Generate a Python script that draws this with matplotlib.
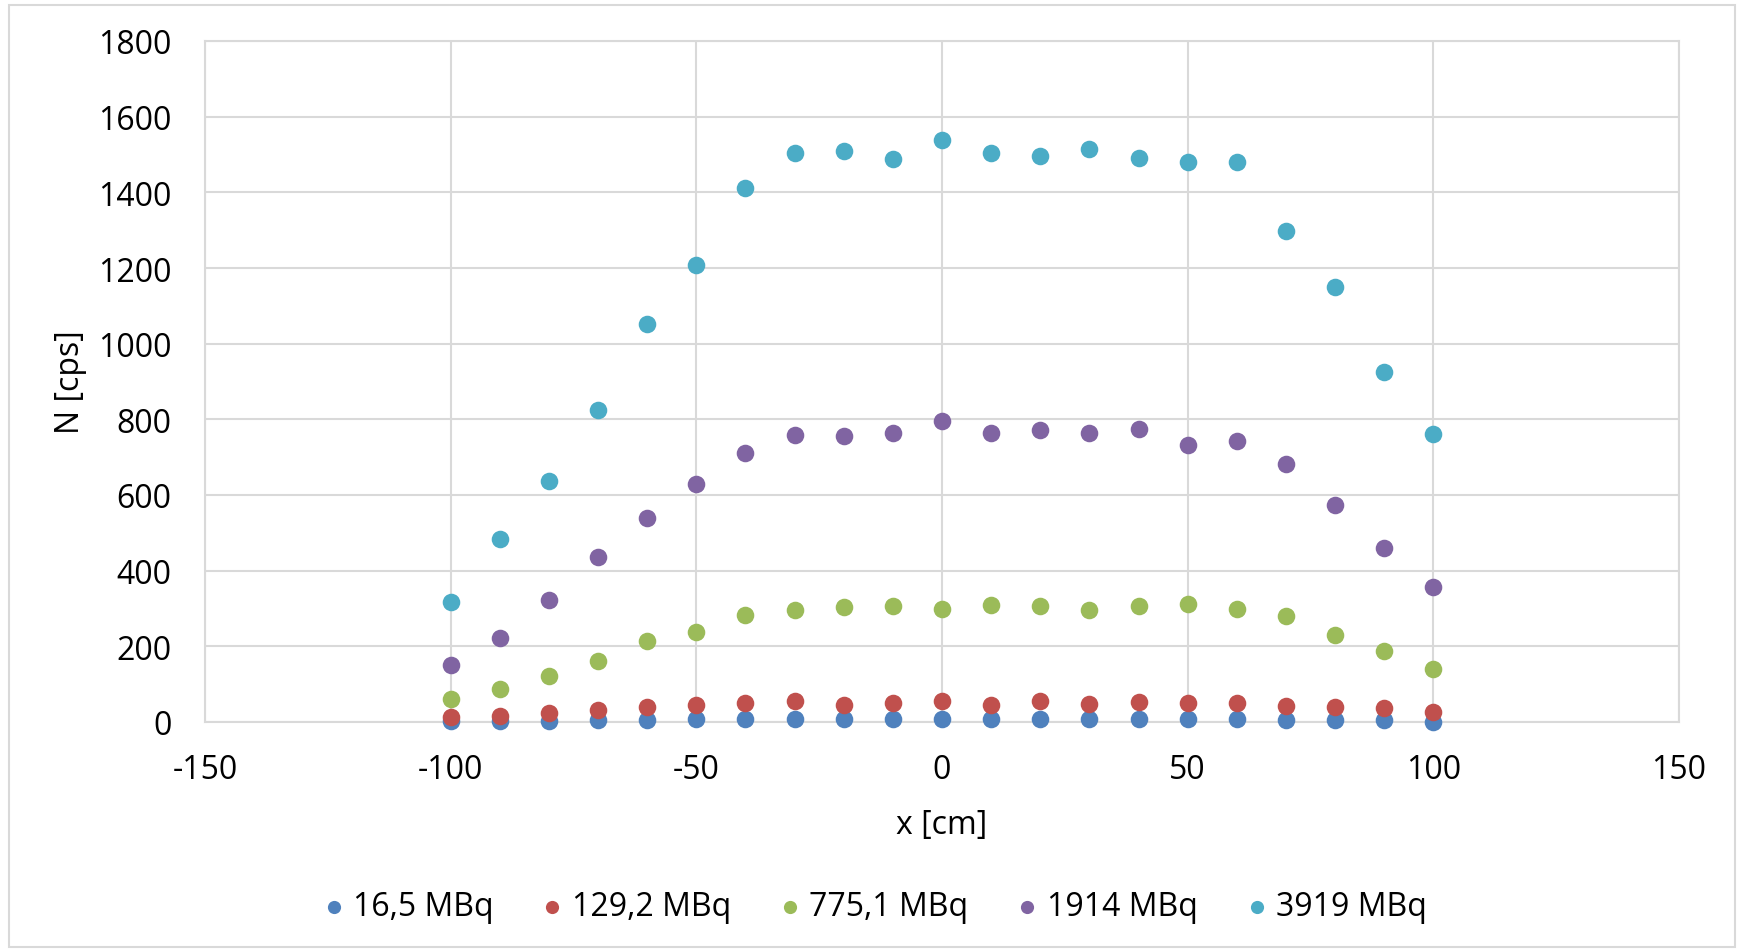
import matplotlib
matplotlib.use("Agg")
import matplotlib.pyplot as plt
from matplotlib.patches import Rectangle

plt.rcParams['font.family'] = ['Open Sans', 'DejaVu Sans']
plt.rcParams['axes.unicode_minus'] = False

x_cm = [-100, -90, -80, -70, -60, -50, -40, -30, -20, -10, 0, 10, 20, 30, 40, 50, 60, 70, 80, 90, 100]

s_16_5 = [2, 2, 3, 5, 6, 7, 8, 9, 9, 9, 8, 9, 9, 9, 7, 9, 7, 6, 5, 4, 1]
s_129_2 = [14, 16, 24, 31, 39, 44, 50, 55, 46, 50, 55, 45, 55, 48, 53, 50, 49, 42, 40, 37, 26]
s_775_1 = [60, 88, 122, 162, 213, 237, 282, 295, 303, 306, 299, 309, 306, 296, 307, 313, 298, 279, 229, 188, 141]
s_1914 = [150, 223, 323, 437, 540, 628, 711, 758, 755, 763, 796, 763, 772, 763, 775, 731, 743, 681, 573, 461, 358]
s_3919 = [317, 484, 637, 825, 1051, 1207, 1412, 1503, 1509, 1489, 1539, 1503, 1497, 1515, 1492, 1480, 1480, 1298, 1151, 925, 760]

labels = ["16,5 MBq", "129,2 MBq", "775,1 MBq", "1914 MBq", "3919 MBq"]
colors = ["#4f81bd", "#c0504d", "#9bbb59", "#8064a2", "#4bacc6"]
series = [s_16_5, s_129_2, s_775_1, s_1914, s_3919]

x_ticks = [-150, -100, -50, 0, 50, 100, 150]
y_ticks = [0, 200, 400, 600, 800, 1000, 1200, 1400, 1600, 1800]

fig = plt.figure(figsize=(17.41, 9.53), dpi=100)
fig.patches.append(Rectangle((9/1741, 1-948/953), (1735-9)/1741, (948-6)/953,
                             transform=fig.transFigure, fill=False,
                             edgecolor="#d9d9d9", linewidth=1.5))

ax = fig.add_axes([205/1741, 1-723/953, (1679-205)/1741, (723-42)/953])
for s, c, lab in zip(series, colors, labels):
    ax.scatter(x_cm, s, s=160, color=c, label=lab, zorder=3, linewidths=0, clip_on=False)

ax.set_xlim(-150, 150)
ax.set_ylim(0, 1800)
ax.set_xticks(x_ticks)
ax.set_yticks(y_ticks)
ax.grid(True, color="#d9d9d9", linewidth=1.5, zorder=0)
ax.set_axisbelow(True)
for sp in ax.spines.values():
    sp.set_color("#d9d9d9")
    sp.set_linewidth(1.5)
ax.tick_params(length=0, labelsize=23, colors="black")
ax.tick_params(axis='x', pad=22)
ax.tick_params(axis='y', pad=24)
ax.set_xlabel("x [cm]", fontsize=23, labelpad=16)
ax.set_ylabel("N [cps]", fontsize=23, labelpad=8)

leg = fig.legend(loc="center", bbox_to_anchor=(0.5, 1-908/953), ncol=5, frameon=False,
                 fontsize=23, handletextpad=0.0, columnspacing=1.25, handlelength=1.2,
                 markerscale=0.75)

fig.savefig("out.png", dpi=100)
